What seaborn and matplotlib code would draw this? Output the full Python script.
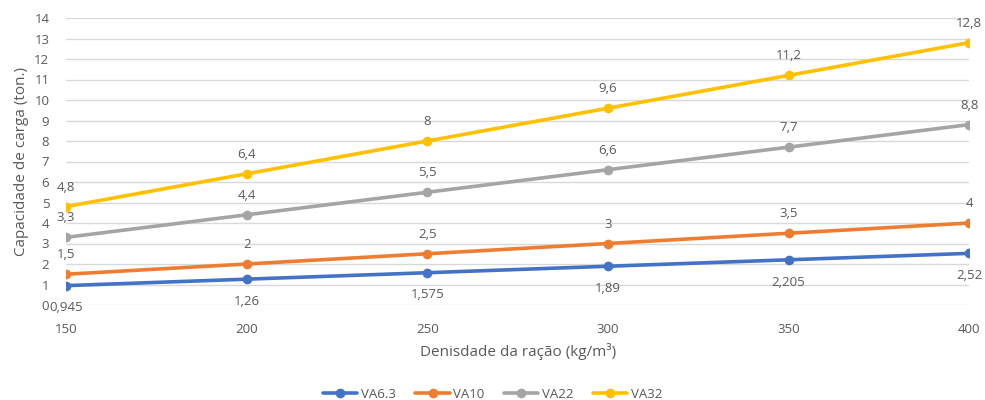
import matplotlib
matplotlib.use('Agg')
import matplotlib.pyplot as plt
import seaborn as sns
import pandas as pd

# Data
densidade = [150, 200, 250, 300, 350, 400]
va63 = [0.945, 1.26, 1.575, 1.89, 2.205, 2.52]
va10 = [1.5, 2, 2.5, 3, 3.5, 4]
va22 = [3.3, 4.4, 5.5, 6.6, 7.7, 8.8]
va32 = [4.8, 6.4, 8, 9.6, 11.2, 12.8]
series_names = ['VA6.3', 'VA10', 'VA22', 'VA32']
colors = ['#4472C4', '#ED7D31', '#A5A5A5', '#FFC000']

series = dict(zip(series_names, [va63, va10, va22, va32]))
df = pd.DataFrame([
    {'x': x, 'y': y, 'serie': name}
    for name, vals in series.items()
    for x, y in zip(densidade, vals)
])

sns.set_style('white')
plt.rcParams['font.family'] = ['Open Sans', 'DejaVu Sans']
txt = '#595959'

fig = plt.figure(figsize=(9.85, 4.0), dpi=100)
ax = fig.add_axes([0.067, 0.2375, 0.917, 0.7175])

sns.lineplot(data=df, x='x', y='y', hue='serie', palette=colors,
             marker='o', markersize=7, markeredgewidth=0, linewidth=2.6,
             ax=ax, legend=True)

# data labels
for name, vals in series.items():
    off = -16 if name == 'VA6.3' else 14
    for x, y in zip(densidade, vals):
        lab = f'{y:g}'.replace('.', ',')
        ax.annotate(lab, (x, y), xytext=(0, off), textcoords='offset points',
                    ha='center', va='center', fontsize=9.5, color=txt)

ax.set_xlim(150, 400)
ax.set_ylim(0, 14)
ax.set_xticks(densidade)
ax.set_yticks(range(0, 15))
ax.grid(axis='y', color='#D9D9D9', linewidth=1)
ax.set_axisbelow(True)
for s in ax.spines.values():
    s.set_visible(False)
ax.tick_params(axis='both', length=0, labelsize=9.5, labelcolor=txt)
ax.tick_params(axis='x', pad=13)
ax.tick_params(axis='y', pad=12)
ax.set_xlabel('Denisdade da ração (kg/m³)', fontsize=11, color=txt, labelpad=5)
ax.set_ylabel('Capacidade de carga (ton.)', fontsize=11, color=txt, labelpad=4)

handles, labels = ax.get_legend_handles_labels()
ax.get_legend().remove()
fig.legend(handles, labels, loc='center', bbox_to_anchor=(0.5, 0.015), ncol=4,
           frameon=False, fontsize=9.5, labelcolor=txt, handlelength=2.6,
           columnspacing=1.5, handletextpad=0.25)

fig.savefig('out.png', dpi=100)
